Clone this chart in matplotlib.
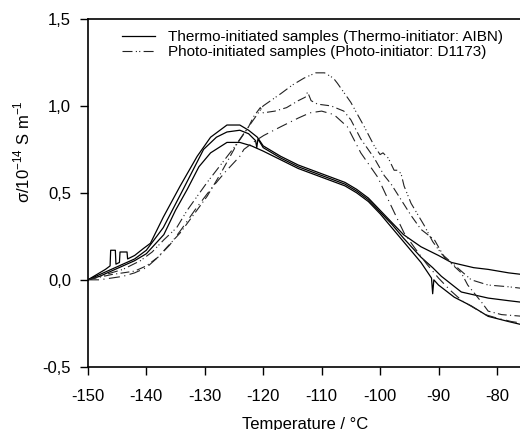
import matplotlib
matplotlib.use("Agg")
import matplotlib.pyplot as plt
from matplotlib.ticker import FuncFormatter

plt.rcParams["font.family"] = ["Liberation Sans", "DejaVu Sans"]
plt.rcParams["axes.unicode_minus"] = False

# thermo-initiated samples (solid)
t1_x = [-150, -148.5, -147, -146.2, -146.1, -145.3, -145.2, -144.6, -144.5, -143.3, -143.2,
        -142, -140.5, -139.3, -137.1, -134.2, -131.3, -129, -126.2, -124, -122.5, -121, -120,
        -117, -114, -110, -106, -104, -102, -100, -98, -96, -93, -90, -87.8, -84, -81.5, -78, -75.5]
t1_y = [0.0, 0.03, 0.06, 0.08, 0.17, 0.17, 0.09, 0.10, 0.16, 0.16, 0.12,
        0.14, 0.18, 0.21, 0.36, 0.54, 0.71, 0.82, 0.89, 0.89, 0.86, 0.82, 0.77,
        0.71, 0.66, 0.61, 0.56, 0.52, 0.47, 0.40, 0.33, 0.26, 0.19, 0.14, 0.10, 0.07, 0.06, 0.04, 0.03]

t2_x = [-150, -148, -146, -144, -142, -140, -137.1, -133.7, -130.2, -128, -126.2, -124, -122.5,
        -121.3, -121.1, -120.9, -120, -117, -114, -110, -106, -104, -102, -100, -98, -96, -93,
        -91, -89.5, -86.1, -81.5, -78, -75.5]
t2_y = [0.0, 0.03, 0.06, 0.09, 0.12, 0.17, 0.30, 0.52, 0.75, 0.82, 0.85, 0.86, 0.84,
        0.80, 0.76, 0.81, 0.76, 0.70, 0.65, 0.60, 0.55, 0.51, 0.46, 0.39, 0.32, 0.24, 0.13,
        0.07, 0.02, -0.07, -0.105, -0.12, -0.13]

t3_x = [-150, -148, -146, -144, -142, -140, -137, -135, -133, -131, -129, -126.2, -124, -122,
        -120, -117, -114, -110, -106, -104, -102, -100, -98, -96, -93, -91.2, -91, -90.8, -90,
        -87.3, -84.4, -81.5, -78, -75.5]
t3_y = [0.0, 0.02, 0.05, 0.08, 0.11, 0.15, 0.26, 0.40, 0.52, 0.65, 0.73, 0.79, 0.79, 0.77,
        0.74, 0.69, 0.64, 0.59, 0.54, 0.50, 0.45, 0.38, 0.30, 0.22, 0.10, 0.01, -0.08, 0.0, -0.03,
        -0.10, -0.15, -0.21, -0.24, -0.26]

# photo-initiated samples (dash-dot)
p1_x = [-150, -147, -144, -141, -139, -137, -134.8, -133, -131.3, -129.6, -127.3, -125, -122.5,
        -120, -117, -115, -113, -111, -109.5, -108, -107.3, -105, -102.7, -101, -100, -99.5,
        -98.6, -97.6, -97, -96.4, -95.9, -94.7, -92.4, -91, -89.5, -87.8, -84.4, -81.5, -78, -75.5]
p1_y = [0.0, 0.03, 0.06, 0.11, 0.16, 0.23, 0.30, 0.40, 0.48, 0.56, 0.66, 0.76, 0.88,
        1.00, 1.07, 1.12, 1.16, 1.19, 1.19, 1.16, 1.13, 1.02, 0.88, 0.77, 0.72, 0.73,
        0.70, 0.63, 0.63, 0.61, 0.54, 0.44, 0.31, 0.22, 0.15, 0.10, 0.0, -0.03, -0.04, -0.05]

p2_x = [-150, -146, -142, -140, -138, -136.4, -134.2, -132, -129.6, -127.3, -124.5, -122.5,
        -121.6, -120.5, -120, -118, -116, -114, -112.8, -112.4, -111.8, -110.7, -108.4, -106.2,
        -105, -103.3, -101, -99.3, -98.1, -96.4, -94.7, -93, -90.7, -89, -86.1, -85, -82.6,
        -81.5, -79.2, -75.5]
p2_y = [0.0, 0.03, 0.05, 0.08, 0.13, 0.19, 0.27, 0.37, 0.48, 0.61, 0.78, 0.88,
        0.94, 0.99, 0.96, 0.97, 0.99, 1.03, 1.05, 1.08, 1.03, 1.01, 1.00, 0.97,
        0.92, 0.81, 0.70, 0.60, 0.55, 0.46, 0.37, 0.29, 0.23, 0.13, 0.04, -0.03, -0.13,
        -0.18, -0.20, -0.21]

p3_x = [-150, -148, -146, -144, -142, -140, -138, -136, -134, -131.5, -129, -126.5, -124,
        -123.3, -121.3, -119.9, -117, -114, -112, -110, -107.9, -105.6, -103.3, -100.4, -98.6,
        -96.9, -95.9, -94, -92, -90, -88, -86, -84, -82, -80, -77.5, -75.5]
p3_y = [0.0, 0.0, 0.01, 0.02, 0.04, 0.07, 0.13, 0.20, 0.29, 0.41, 0.52, 0.62, 0.71,
        0.75, 0.80, 0.83, 0.88, 0.93, 0.96, 0.97, 0.95, 0.88, 0.73, 0.59, 0.46,
        0.34, 0.27, 0.18, 0.09, 0.01, -0.06, -0.12, -0.16, -0.20, -0.22, -0.24, -0.25]

fig = plt.figure(figsize=(5.2, 4.3), dpi=100)
ax = fig.add_axes([0.169, 0.147, 0.835, 0.809])

solid_kw = dict(color="black", lw=0.9)
ax.plot(t1_x, t1_y, label="Thermo-initiated samples (Thermo-initiator: AIBN)", **solid_kw)
ax.plot(t2_x, t2_y, **solid_kw)
ax.plot(t3_x, t3_y, **solid_kw)

ax.plot(p1_x, p1_y, color="#222222", lw=0.8, ls=(0, (9, 3, 1, 2, 1, 3)),
        label="Photo-initiated samples (Photo-initiator: D1173)")
ax.plot(p2_x, p2_y, color="#222222", lw=0.8, ls=(0, (8, 3, 1, 3)))
ax.plot(p3_x, p3_y, color="#222222", lw=0.8, ls=(0, (10, 4, 1, 4)))

ax.set_xlim(-150, -75.7)
ax.set_ylim(-0.5, 1.5)
ax.set_xticks([-150, -140, -130, -120, -110, -100, -90, -80])
ax.set_yticks([-0.5, 0.0, 0.5, 1.0, 1.5])
ax.yaxis.set_major_formatter(FuncFormatter(lambda v, p: f"{v:.1f}".replace(".", ",")))
ax.tick_params(direction="out", length=6, width=1, labelsize=12)
ax.tick_params(axis="x", pad=10)
ax.tick_params(axis="y", pad=6)

ax.spines["right"].set_visible(False)
for side in ("left", "bottom", "top"):
    ax.spines[side].set_linewidth(1.2)

ax.set_ylabel(r"σ/10$^{\mathregular{-14}}$ S m$^{\mathregular{-1}}$", fontsize=12)
ax.yaxis.set_label_coords(-0.128, 0.62)
ax.set_xlabel("Temperature / °C", fontsize=12)
ax.xaxis.set_label_coords(0.5, -0.143)

ax.legend(loc="upper left", bbox_to_anchor=(0.046, 1.008), frameon=False, fontsize=11,
          handlelength=2.2, handletextpad=0.85, labelspacing=0.1)

fig.savefig("out.png", dpi=100)
